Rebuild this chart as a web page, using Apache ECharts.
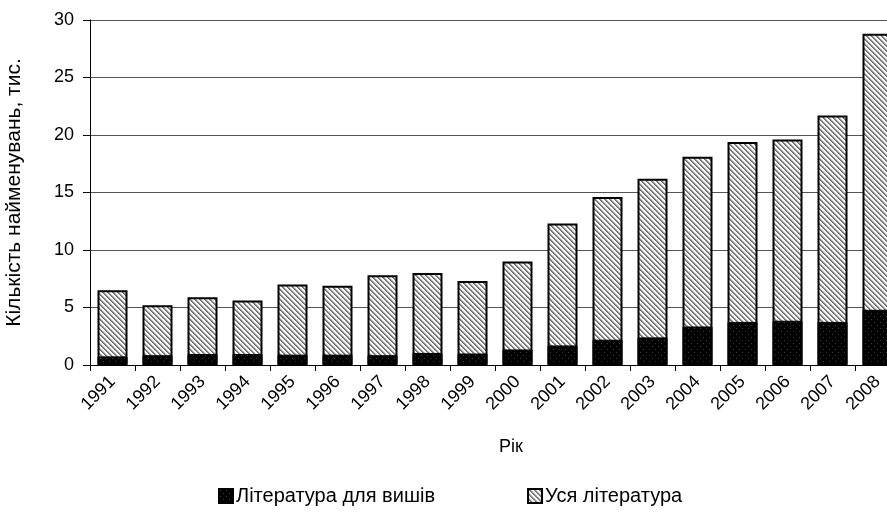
<!DOCTYPE html>
<html><head><meta charset="utf-8">
<script src="https://cdn.jsdelivr.net/npm/echarts@6/dist/echarts.min.js"></script>
<style>html,body{margin:0;padding:0;background:#fff}#c{width:887px;height:519px}</style>
</head><body><div id="c"></div>
<script>
const years = ['1991','1992','1993','1994','1995','1996','1997','1998','1999','2000','2001','2002','2003','2004','2005','2006','2007','2008'];
const allLit = [6.5, 5.2, 5.9, 5.6, 7.0, 6.9, 7.8, 8.0, 7.3, 9.0, 12.3, 14.6, 16.2, 18.1, 19.4, 19.6, 21.7, 28.8];
const uniLit = [0.75, 0.85, 0.95, 0.95, 0.9, 0.9, 0.85, 1.05, 1.0, 1.35, 1.7, 2.2, 2.4, 3.35, 3.75, 3.85, 3.75, 4.8];
const yTicks = {min: 0, max: 30, interval: 5};
const nameAll = 'Уся література';
const nameUni = 'Література для вишів';

function hatch(){
  const n = 5;
  const c = document.createElement('canvas'); c.width = n; c.height = n;
  const g = c.getContext('2d');
  g.fillStyle = '#ffffff'; g.fillRect(0,0,n,n);
  for (let y=0;y<n;y++) for (let x=0;x<n;x++){
    const d = ((x - y) % n + n) % n;
    if (d === 0) { g.fillStyle = '#6e6e6e'; g.fillRect(x,y,1,1); }
    else if (d === 1) { g.fillStyle = '#8c8c8c'; g.fillRect(x,y,1,1); }
    else if (d === 2) { g.fillStyle = '#d0d0d0'; g.fillRect(x,y,1,1); }
  }
  return c;
}
function dots(){
  const c = document.createElement('canvas'); c.width = 6; c.height = 6;
  const g = c.getContext('2d');
  g.fillStyle = '#000'; g.fillRect(0,0,6,6);
  g.fillStyle = '#3a3a3a'; g.fillRect(1,1,1,1); g.fillRect(4,4,1,1);
  return c;
}
const font = 'Liberation Sans, Arial, sans-serif';
const chart = echarts.init(document.getElementById('c'));
chart.setOption({
  animation: false,
  backgroundColor: '#fff',
  textStyle: {fontFamily: font, color: '#000'},
  grid: {left: 90, width: 810, top: 20, height: 345, containLabel: false, outerBoundsMode: 'none'},
  legend: {
    data: [nameUni, nameAll], top: 481, left: 213,
    itemWidth: 14, itemHeight: 14, itemGap: 92, icon: 'rect',
    textStyle: {fontSize: 20, color: '#000', fontFamily: font, padding: [0,0,0,-2]}
  },
  xAxis: {
    type: 'category', data: years,
    axisLine: {lineStyle: {color: '#000', width: 1}},
    axisTick: {show: true, length: 6, interval: 0, lineStyle: {color: '#000'}},
    axisLabel: {rotate: 45, fontSize: 18, color: '#000', margin: 14, interval: 0, fontFamily: font}
  },
  yAxis: {
    type: 'value', min: yTicks.min, max: yTicks.max, interval: yTicks.interval,
    name: 'Кількість найменувань, тис.', nameLocation: 'middle', nameGap: 65,
    nameTextStyle: {fontSize: 21, color: '#000', fontFamily: font},
    axisLine: {show: true, lineStyle: {color: '#000'}},
    axisTick: {show: true, length: 7, lineStyle: {color: '#000'}},
    axisLabel: {fontSize: 18, color: '#000', margin: 16, fontFamily: font},
    splitLine: {lineStyle: {color: '#555', width: 1}}
  },
  graphic: [{type: 'text', left: 499, top: 438, style: {text: 'Рік', fontSize: 18, fill: '#000', fontFamily: font}}],
  series: [
    {name: nameAll, type: 'bar', data: allLit, barWidth: 30,
     itemStyle: {color: {image: hatch(), repeat: 'repeat'}, borderColor: '#000', borderWidth: 2}},
    {name: nameUni, type: 'bar', data: uniLit, barWidth: 30, barGap: '-100%',
     itemStyle: {color: {image: dots(), repeat: 'repeat'}, borderColor: '#000', borderWidth: 1}}
  ]
});
</script></body></html>
